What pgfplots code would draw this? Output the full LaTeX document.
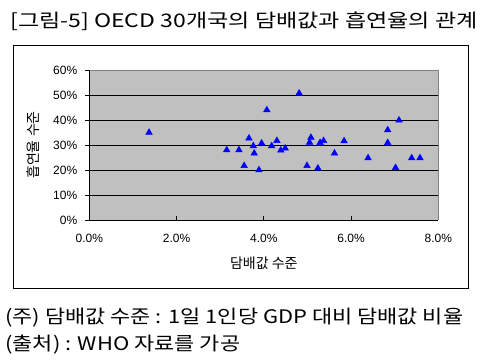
\documentclass[border=0pt]{standalone}
\usepackage{pgfplots}
\pgfplotsset{compat=1.18}
\usepackage{fontspec}
\setmainfont{Liberation Sans}
\newfontfamily\kr{Noto Sans CJK KR}
\definecolor{plotgray}{RGB}{192,192,192}
\definecolor{bordergray}{RGB}{128,128,128}
\definecolor{mblue}{RGB}{0,0,255}
\begin{document}
\begin{tikzpicture}[x=0.75pt,y=0.75pt]
\path[use as bounding box] (0,0) rectangle (484,-361);
\draw[black, line width=0.75pt] (13,-45) rectangle (468,-288);
\node[anchor=base west, inner sep=0pt, font=\kr\fontsize{14}{15}\selectfont] at (10,-27) {\scalebox{1.235}[1]{[그림-5] OECD 30개국의 담배값과 흡연율의 관계}};
\node[anchor=base west, inner sep=0pt, font=\kr\fontsize{14}{15}\selectfont] at (5,-323) {\scalebox{1.175}[1]{(주) 담배값 수준 : 1일 1인당 GDP 대비 담배값 비율}};
\node[anchor=base west, inner sep=0pt, font=\kr\fontsize{14}{15}\selectfont] at (5,-350) {\scalebox{1.175}[1]{(출처) : WHO 자료를 가공}};
\begin{axis}[
  at={(66.975pt,-165pt)}, anchor=south west,
  scale only axis, width=261.75pt, height=112.5pt,
  xmin=0, xmax=8, ymin=0, ymax=60,
  xtick={0,2,4,6,8},
  xticklabels={0.0\%,2.0\%,4.0\%,6.0\%,8.0\%},
  ytick={0,10,20,30,40,50,60},
  yticklabels={0\%,10\%,20\%,30\%,40\%,50\%,60\%},
  ymajorgrids, grid style={black, line width=0.75pt},
  axis background/.style={fill=plotgray},
  axis line style={draw=none},
  tick style={black, line width=0.75pt},
  xtick align=inside, ytick align=outside,
  major tick length=3pt,
  xtick pos=bottom, ytick pos=left,
  tick label style={font=\fontsize{9}{10}\selectfont},
  xticklabel style={yshift=-7pt},
  yticklabel style={xshift=-2.5pt},
  /pgf/number format/assume math mode=true,
  xlabel={\kr 담배값 수준},
  ylabel={\kr 흡연율 수준},
  label style={font=\kr\fontsize{10.5}{11}\selectfont},
  xlabel style={at={(axis description cs:0.5,-0.287)}, anchor=center},
  ylabel style={at={(axis description cs:-0.16,0.5)}, anchor=center, rotate=0},
  clip=false,
]
\addplot[only marks, mark=triangle*, mark size=2.8pt, mark options={fill=mblue, draw=mblue}] coordinates {
(1.37,35) (4.07,44) (3.15,28) (3.43,28) (3.66,32.7) (3.76,29.6)
(3.78,26.7) (3.55,21.7) (3.89,20) (3.95,30.7) (4.18,29.6) (4.30,31.7)
(4.39,27.9) (4.49,28.7) (4.81,50.7) (4.99,21.7) (5.08,33) (5.05,31)
(5.24,20.7) (5.29,30.9) (5.37,31.7) (5.62,26.7) (5.84,31.6) (6.39,24.8)
(6.84,36) (6.84,30.9) (7.10,39.9) (7.02,20.9) (7.39,24.8) (7.58,24.8)
};
\draw[bordergray, line width=0.75pt] (rel axis cs:0,1) -- (rel axis cs:1,1) -- (rel axis cs:1,0);
\draw[black, line width=0.75pt] (rel axis cs:0,1) -- (rel axis cs:0,0) -- (rel axis cs:1,0);
\end{axis}
\end{tikzpicture}
\end{document}
